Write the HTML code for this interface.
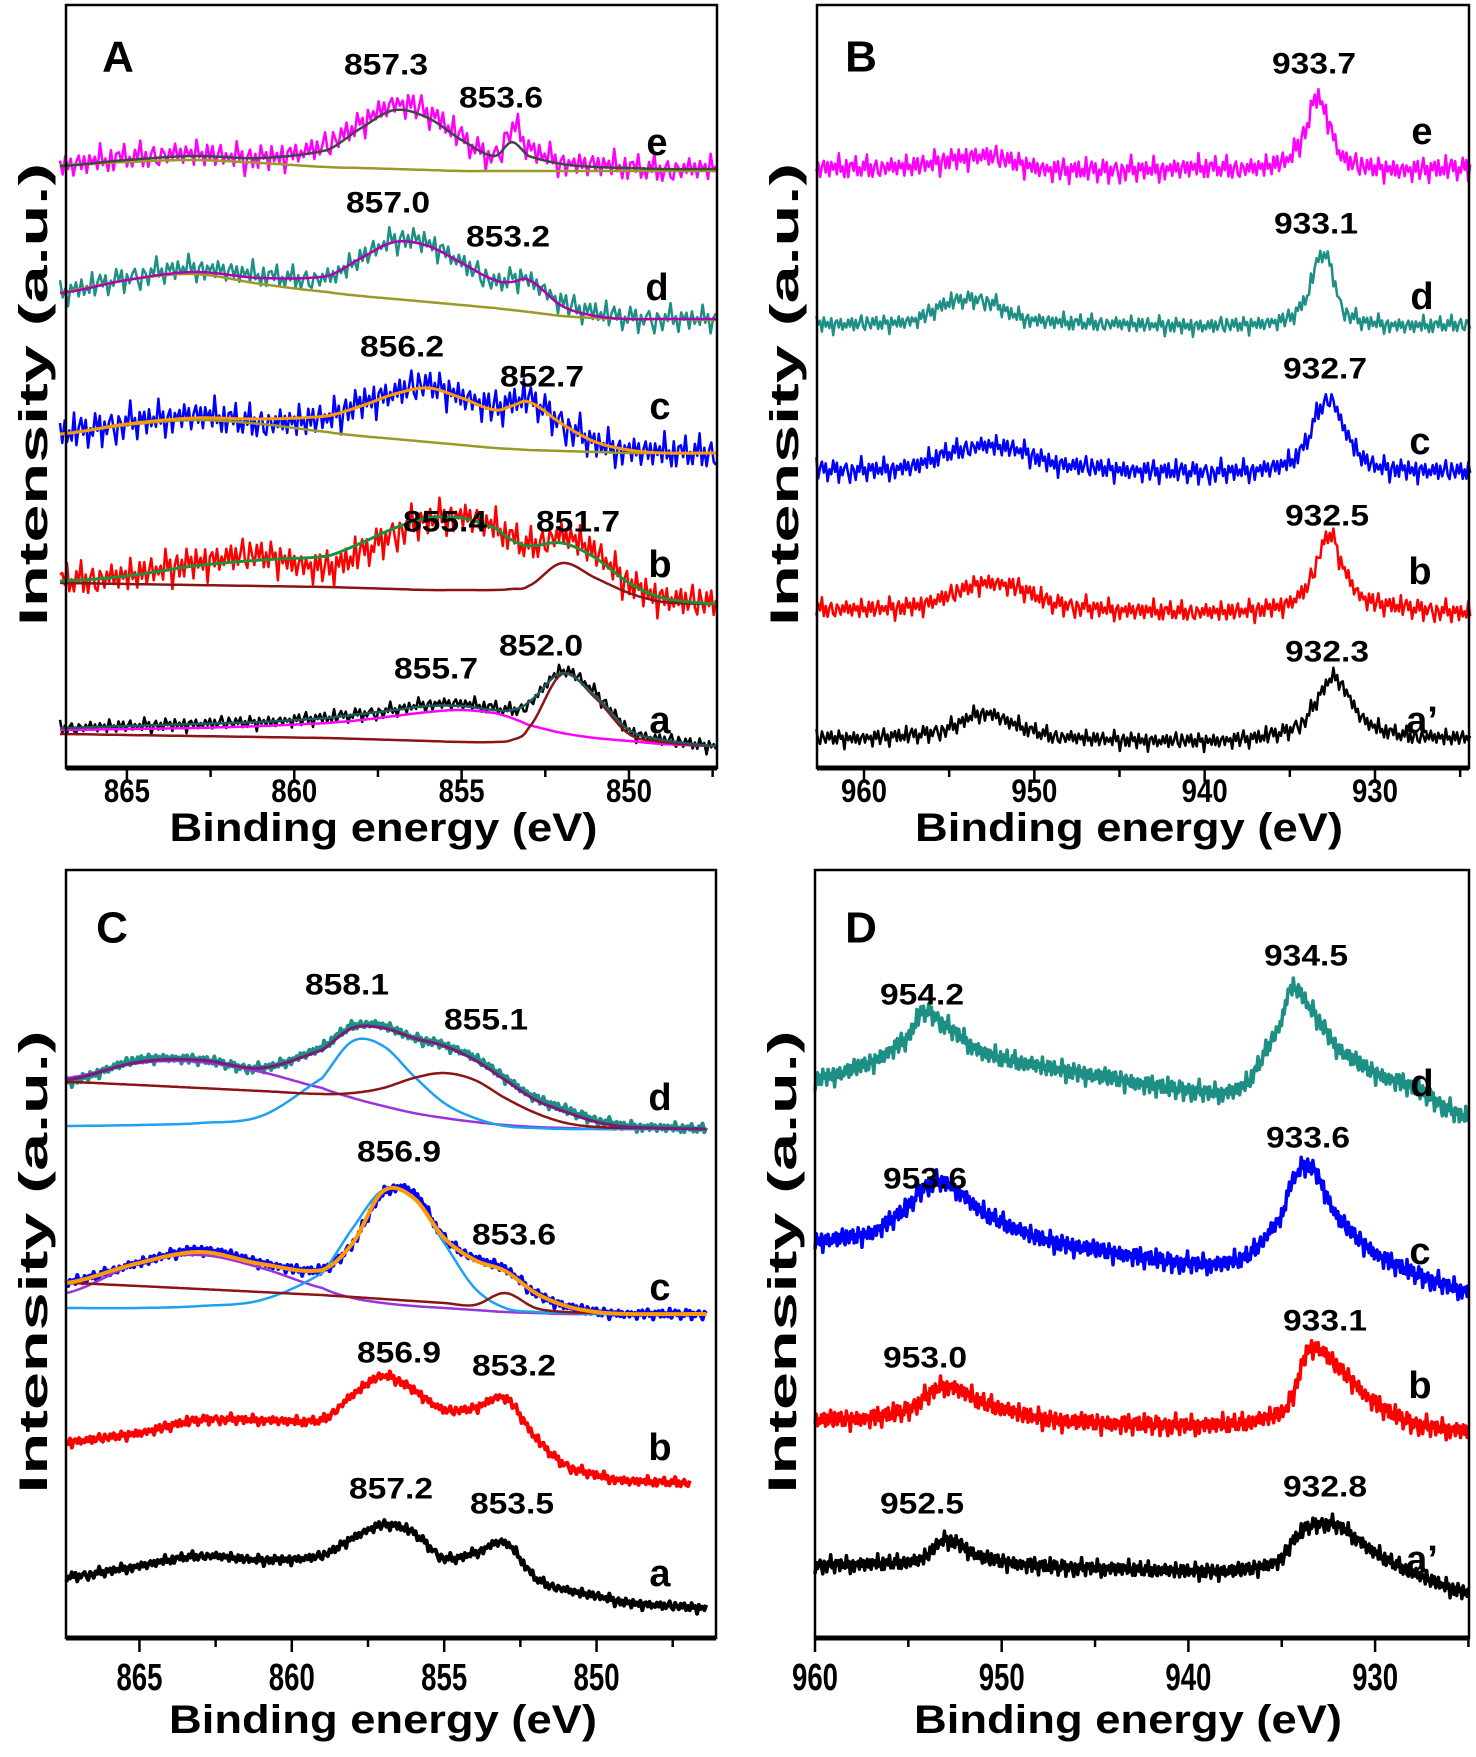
<!DOCTYPE html>
<html><head><meta charset="utf-8">
<style>
html,body{margin:0;padding:0;background:#fff;}
svg{display:block;}
text{font-family:"Liberation Sans",Arial,sans-serif;font-weight:bold;fill:#000;}
</style></head>
<body>
<svg id="fig" width="1476" height="1757" viewBox="0 0 1476 1757" xmlns="http://www.w3.org/2000/svg">
<rect width="1476" height="1757" fill="#fff"/>
</svg>
<script>
// ---- shared noise pattern (literal) ----
const noise=[0.3,-0.8,0.9,-0.2,0.6,-1,0.1,0.8,-0.5,0.4,-0.9,0.7,-0.1,0.5,-0.7,1,-0.4,0.2,-0.6,0.9,-1,0.3,0.6,-0.3,0.8,-0.8,0.1,-0.5,0.7,-0.2,0.9,-0.9,0.4,-0.6,0.2,0.8,-0.4,-0.9,0.6,0.1,-0.7,0.5,-0.2,1,-0.5,0.3,-0.8,0.7,-0.1,0.4,-1,0.8,-0.3,0.2,-0.6,0.9,-0.4,0.5,-0.9,0.1,0.6,-0.7,0.3,-0.2];

// ---- Panel A data ----
const eA=[867,865,863,861,859,858,857,856,855,854,853.5,853,852,851,850,849,847.4];
const aE=[602,610,614,610,622,645,664,655,630,612,640,620,606,603,600,598,600];
const aEfit=[602,608,612,610,618,640,658,650,628,612,626,612,604,601,600,599,599];
const aEbg=[603,606,608,605,601,600,599,598,597,597,597,597,597,597,597,597,597];
const aD=[475,490,500,492,490,510,528,525,505,485,490,488,465,455,450,449,449];
const aDfit=[475,488,496,490,492,510,526,522,505,488,486,488,462,452,449,449,449];
const aDbg=[476,488,494,484,476,472,469,466,463,460,458,456,452,450,449,449,448];
const aC=[334,345,352,345,350,365,375,382,372,360,365,368,345,325,318,315,315];
const aCfit=[334,344,350,349,352,362,374,380,370,358,362,366,344,326,318,315,315];
const aCbg=[334,343,348,344,336,332,329,326,323,320,319,318,317,316,315,315,315];
const aB=[187,192,205,212,200,215,235,248,252,240,230,222,232,215,185,170,164];
const aBfit=[187,192,202,208,212,225,240,250,250,240,228,222,225,210,185,170,164];
const aBcomp=[185,184,183,182,181,180,179,178,178,178,179,182,205,190,175,166,164];
const aA=[40,42,44,46,50,54,58,64,64,60,58,64,97,75,38,28,22];
const aAfit=[40,42,44,46,50,54,58,62,62,58,58,66,95,72,38,28,22];
const aAcomp=[38,39,40,42,45,48,52,56,58,55,50,43,35,30,27,24,22];
const aAcomp2=[34,33,32,31,30,29,28,27,26,26,28,40,94,70,34,26,22];

// ---- Panel B data ----
const eB=[962.8,960,957,955,953,951,949,945,940,937,935,934,933.5,933,932.5,932,931,930,928,924.4];
const bE=[600,600,602,608,612,605,598,598,600,600,610,640,670,660,635,612,602,600,598,600];
const bD=[444,444,448,465,468,452,446,444,442,444,450,470,500,515,495,462,448,445,442,444];
const bC=[298,298,302,315,322,318,305,298,296,298,305,325,350,365,368,345,315,302,298,296];
const bB=[159,159,162,172,185,180,165,158,156,158,165,180,200,225,232,205,175,165,160,155];
const bA=[30,30,33,40,55,42,32,28,27,30,38,50,65,80,90,85,55,40,32,30];

// ---- Panel C data ----
const eC=[867.4,865,863,861,859,858,857,856,855,854,853,852,851,850,849,846.4];
const cD=[556,578,578,570,590,612,612,600,593,580,560,540,528,518,512,509];
const cDblue=[512,513,515,522,560,597,592,562,535,520,512,510,509,509,509,509];
const cDbrown=[556,553,550,547,544,545,550,560,565,558,540,525,515,511,510,509];
const cDpurple=[560,575,576,566,550,540,532,525,520,516,513,511,510,509,509,509];
const cDenv=[558,576,578,570,588,610,610,600,592,578,558,538,526,516,511,509];
const cC=[355,375,388,375,368,395,445,445,400,380,369,345,332,326,324,324];
const cCblue=[330,330,332,338,365,410,448,440,395,350,330,326,325,324,324,324];
const cCpurple=[345,375,383,370,350,340,335,332,330,328,326,325,324,324,324,324];
const cCbrown=[355,352,349,346,343,341,339,337,335,333,345,330,326,325,324,324];
const cCenv=[355,375,386,374,368,395,447,440,400,378,367,345,332,326,324,324];
const cB=[196,205,218,218,218,243,262,248,228,230,240,200,173,163,157,155];
const cA=[61,72,82,78,82,100,113,105,80,85,95,60,48,42,35,30];

// ---- Panel D data ----
const eD=[960,957,955,954.2,953,951,948,945,940,937,935,934.5,933.5,932,930,928,925];
const dD=[559,575,600,626,612,585,572,562,548,552,615,650,630,590,565,550,520];
const dC=[397,405,430,450,455,425,400,388,375,380,420,455,472,420,385,365,347];
const dB=[218,220,228,240,252,235,220,215,213,215,225,240,290,270,235,215,207];
const dA=[73,74,76,80,98,80,72,70,67,68,78,95,112,112,85,65,45];

// ---- tick labels ----
const ticksAC=[865,860,855,850];
const ticksBD=[960,950,940,930];

const NS="http://www.w3.org/2000/svg";
const svg=document.getElementById('fig');
function mk(tag,attrs,parent){const el=document.createElementNS(NS,tag);for(const k in attrs)el.setAttribute(k,attrs[k]);(parent||svg).appendChild(el);return el;}

const panels={
 A:{l:66,r:717,t:5,b:768,e0:866.82,e1:847.37,major:5,minor:2.5,ticks:ticksAC,ly:23,lf:32,ty:60},
 B:{l:817,r:1469,t:5,b:768,e0:962.76,e1:924.48,major:10,minor:5,ticks:ticksBD,ly:23,lf:32,ty:60},
 C:{l:66,r:716,t:870,b:1638,e0:867.41,e1:846.08,major:5,minor:2.5,ticks:ticksAC,ly:40,lf:38,ty:82},
 D:{l:815,r:1469,t:870,b:1638,e0:960,e1:924.97,major:10,minor:5,ticks:ticksBD,ly:40,lf:38,ty:82}
};
function xs(p,e){return p.l+(p.e0-e)/(p.e0-p.e1)*(p.r-p.l);}
function ys(p,v){return p.b-v;}

function interp(xa,ya,x){
 let i=0;while(i<xa.length-2&&x<xa[i+1])i++;
 const t=(xa[i]-x)/(xa[i]-xa[i+1]);
 const p0=ya[Math.max(i-1,0)],p1=ya[i],p2=ya[i+1],p3=ya[Math.min(i+2,ya.length-1)];
 const t2=t*t,t3=t2*t;
 return 0.5*((2*p1)+(-p0+p2)*t+(2*p0-5*p1+4*p2-p3)*t2+(-p0+3*p1-3*p2+p3)*t3);
}
function curve(pn,ex,vals,color,width,amp,off,step,name,eEnd){
 const p=panels[pn];
 const end=eEnd!==undefined?eEnd:ex[ex.length-1];
 let d='',k=0;
 for(let e=ex[0];e>=end-1e-9;e-=step){
  let v=interp(ex,vals,e);
  if(amp)v+=amp*noise[(k+off)%noise.length]*(k%3===0?1:0.6);
  const X=xs(p,e),Y=ys(p,v);
  d+=(k?'L':'M')+X.toFixed(1)+','+Y.toFixed(1);k++;
 }
 const el=mk('path',{d:d,fill:'none',stroke:color,'stroke-width':width,'stroke-linejoin':'round'});
 
 
 return el;
}
function label(x,y,txt,size,name,len){
 const el=mk('text',{x:x,y:y,'font-size':size,'text-anchor':'middle','dominant-baseline':'central'});
 if(len){el.setAttribute('textLength',len);el.setAttribute('lengthAdjust','spacingAndGlyphs');}
 el.textContent=txt;
 
 
 return el;
}
function frame(pn){
 const p=panels[pn];
 const r=mk('rect',{x:p.l,y:p.t,width:p.r-p.l,height:p.b-p.t,fill:'none',stroke:'#000','stroke-width':2.5});
 
 
 const ax=mk('line',{x1:p.l,x2:p.r,y1:p.b,y2:p.b,stroke:'#000','stroke-width':5});
 
 
 const start=Math.floor(p.e0/p.minor)*p.minor;
 for(let e=start;e>p.e1;e-=p.minor){
  const isMaj=Math.abs(e/p.major-Math.round(e/p.major))<1e-6;
  const X=xs(p,e);
  const tk=mk('line',{x1:X,x2:X,y1:p.b,y2:p.b+(isMaj?14:9),stroke:'#000','stroke-width':2.5});
  
  
 }
 p.ticks.forEach(v=>{label(xs(p,v),p.b+p.ly,String(v),p.lf,'x-tick-label',46);});
 const cx=(p.l+p.r)/2+(pn==='A'||pn==='C'?-8:-14);
 label(cx,p.b+p.ty,'Binding energy (eV)',40,'x-axis-title',428);
 const yt=label(0,0,'Intensity (a.u.)',40,'y-axis-title',463);
 yt.setAttribute('transform','translate('+(p.l-32)+','+((p.t+p.b)/2+8)+') rotate(-90)');
 label(p.l+(pn==='A'?52:pn==='B'?44:46),p.t+(pn==='A'||pn==='B'?52:58),pn,44,'panel-letter-'+pn.toLowerCase());
}

const MAG='#ff00ff',TEAL='#1e8f85',BLUE='#0000ff',RED='#ff0000',OLIVE='#9a9a2a',DRED='#8b1515',ORANGE='#ff9a00',LBLUE='#1ea0f0',PURP='#9a33dd',GRAY='#444';
// ---------- Panel A ----------
curve('A',eA,aE,MAG,2.5,18,0,0.08,'spectrum-a-e');
curve('A',eA,aEbg,OLIVE,2.5,0,0,0.1,'fit-a-e-background');
curve('A',eA,aEfit,GRAY,2.5,0,0,0.1,'fit-a-e-envelope');
curve('A',eA,aD,TEAL,2.5,16,7,0.08,'spectrum-a-d');
curve('A',eA,aDbg,OLIVE,2.5,0,0,0.1,'fit-a-d-background');
curve('A',eA,aDfit,'#b000b0',2.5,0,0,0.1,'fit-a-d-envelope');
curve('A',eA,aC,BLUE,2.5,22,13,0.07,'spectrum-a-c');
curve('A',eA,aCbg,OLIVE,2.5,0,0,0.1,'fit-a-c-background');
curve('A',eA,aCfit,ORANGE,3,0,0,0.1,'fit-a-c-envelope');
curve('A',eA,aB,RED,2.5,22,21,0.07,'spectrum-a-b');
curve('A',eA,aBcomp,DRED,2.5,0,0,0.1,'fit-a-b-component');
curve('A',eA,aBfit,'#1f8f3a',3,0,0,0.1,'fit-a-b-envelope');
curve('A',eA,aA,'#000',2.5,9,30,0.07,'spectrum-a-a');
curve('A',eA,aAcomp,MAG,2.5,0,0,0.1,'fit-a-a-component-1');
curve('A',eA,aAcomp2,DRED,2.5,0,0,0.1,'fit-a-a-component-2');
curve('A',eA,aAfit,'#1e5a5a',2.5,0,0,0.1,'fit-a-a-envelope');
frame('A');
[[386,65,'857.3'],[501,98,'853.6'],[388,203,'857.0'],[508,237,'853.2'],[402,347,'856.2'],[542,377,'852.7'],[445,522,'855.4'],[578,522,'851.7'],[436,669,'855.7'],[541,646,'852.0']].forEach(a=>label(a[0],a[1],a[2],30,'peak-label',84));
[[657,143,'e'],[657,288,'d'],[660,407,'c'],[660,565,'b'],[660,721,'a']].forEach(a=>label(a[0],a[1],a[2],38,'series-letter'));

// ---------- Panel B ----------
curve('B',eB,bE,MAG,2.5,15,3,0.11,'spectrum-b-e');
curve('B',eB,bD,TEAL,2.5,11,11,0.11,'spectrum-b-d');
curve('B',eB,bC,BLUE,2.5,14,19,0.11,'spectrum-b-c');
curve('B',eB,bB,RED,2.5,13,27,0.11,'spectrum-b-b');
curve('B',eB,bA,'#000',2.5,11,35,0.11,'spectrum-b-a-prime');
frame('B');
[[1314,64,'933.7'],[1316,224,'933.1'],[1325,369,'932.7'],[1327,516,'932.5'],[1327,652,'932.3']].forEach(a=>label(a[0],a[1],a[2],30,'peak-label',84));
[[1422,132,'e'],[1422,297,'d'],[1420,442,'c'],[1420,572,'b'],[1422,721,'a\u2019']].forEach(a=>label(a[0],a[1],a[2],38,'series-letter'));

// ---------- Panel C ----------
curve('C',eC,cD,TEAL,4,6,2,0.06,'spectrum-c-d');
curve('C',eC,cDpurple,PURP,2.5,0,0,0.1,'fit-c-d-component-1');
curve('C',eC,cDblue,LBLUE,2.5,0,0,0.1,'fit-c-d-component-2');
curve('C',eC,cDbrown,DRED,2.5,0,0,0.1,'fit-c-d-component-3');
curve('C',eC,cDenv,'#7a1a7a',3,0,0,0.1,'fit-c-d-envelope');
curve('C',eC,cC,BLUE,4,6,9,0.06,'spectrum-c-c');
curve('C',eC,cCpurple,PURP,2.5,0,0,0.1,'fit-c-c-component-1');
curve('C',eC,cCblue,LBLUE,2.5,0,0,0.1,'fit-c-c-component-2');
curve('C',eC,cCbrown,DRED,2.5,0,0,0.1,'fit-c-c-component-3');
curve('C',eC,cCenv,ORANGE,4,0,0,0.1,'fit-c-c-envelope');
curve('C',eC,cB,RED,4,6,17,0.06,'spectrum-c-b',846.9);
curve('C',eC,cA,'#000',4,6,25,0.06,'spectrum-c-a');
frame('C');
[[347,985,'858.1'],[486,1020,'855.1'],[399,1152,'856.9'],[514,1235,'853.6'],[399,1353,'856.9'],[514,1366,'853.2'],[391,1489,'857.2'],[512,1504,'853.5']].forEach(a=>label(a[0],a[1],a[2],30,'peak-label',84));
[[660,1098,'d'],[660,1288,'c'],[660,1448,'b'],[660,1574,'a']].forEach(a=>label(a[0],a[1],a[2],38,'series-letter'));

// ---------- Panel D ----------
curve('D',eD,dD,TEAL,3.5,12,5,0.07,'spectrum-d-d');
curve('D',eD,dC,BLUE,3.5,12,14,0.07,'spectrum-d-c');
curve('D',eD,dB,RED,3.5,12,23,0.07,'spectrum-d-b');
curve('D',eD,dA,'#000',3.5,10,31,0.07,'spectrum-d-a-prime');
frame('D');
[[922,995,'954.2'],[1306,956,'934.5'],[925,1179,'953.6'],[1308,1138,'933.6'],[925,1358,'953.0'],[1325,1321,'933.1'],[922,1504,'952.5'],[1325,1487,'932.8']].forEach(a=>label(a[0],a[1],a[2],30,'peak-label',84));
[[1422,1084,'d'],[1420,1252,'c'],[1420,1386,'b'],[1422,1560,'a\u2019']].forEach(a=>label(a[0],a[1],a[2],38,'series-letter'));
</script>
</body></html>
